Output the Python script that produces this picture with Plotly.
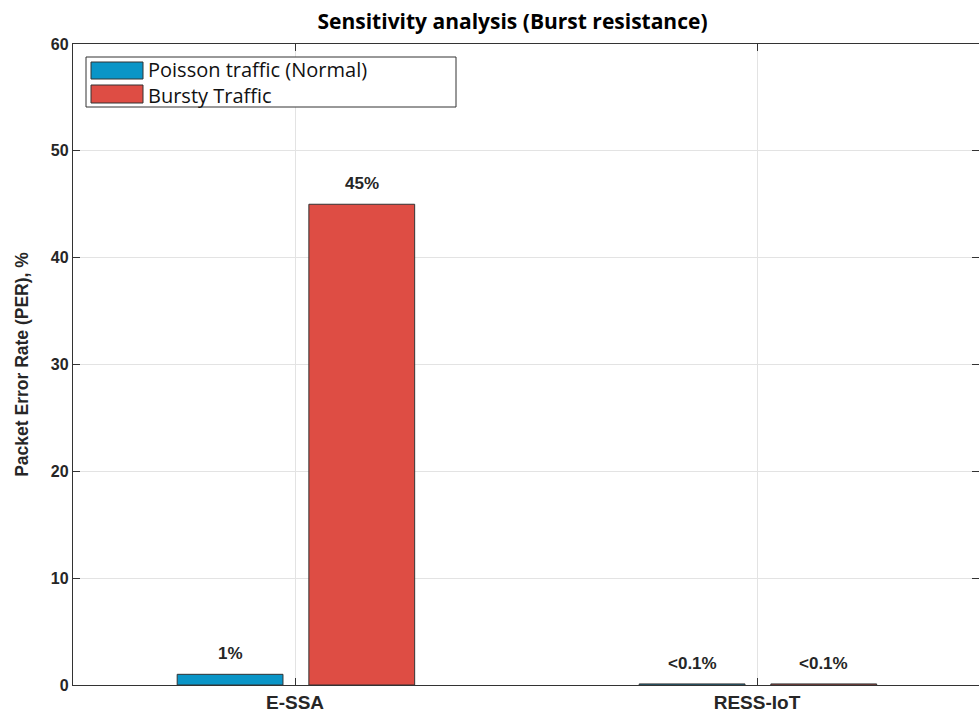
import plotly.graph_objects as go

# ---- data ----
categories = ["E-SSA", "RESS-IoT"]
series_names = ["Poisson traffic (Normal)", "Bursty Traffic"]
poisson_per = [1.0, 0.1]
bursty_per = [45.0, 0.1]
poisson_labels = ["1%", "<0.1%"]
bursty_labels = ["45%", "<0.1%"]
y_ticks = [0, 10, 20, 30, 40, 50, 60]

colors = ["#0A95C7", "#DE4D44"]
edge = "#333333"

W, H = 979, 713
ML, MR, MT, MB = 73, 0, 44, 28
PW, PH = W - ML - MR, H - MT - MB


def px_x(p):
    return (p - ML) / PW


def px_y(p):
    return (H - MB - p) / PH


idx = list(range(len(categories)))
bar_w = 0.229
offsets = [-0.255, 0.030]

fig = go.Figure()
for vals, name, col, off in zip([poisson_per, bursty_per], series_names, colors, offsets):
    fig.add_trace(go.Bar(
        x=idx, y=vals, name=name, width=bar_w, offset=off,
        marker=dict(color=col, line=dict(color=edge, width=1)),
        showlegend=False,
    ))

annotations = []
for vals, labels, off in zip([poisson_per, bursty_per], [poisson_labels, bursty_labels], offsets):
    for i, v, lab in zip(idx, vals, labels):
        annotations.append(dict(
            x=i + off + bar_w / 2, y=v, xref="x", yref="y", text=lab, showarrow=False,
            yanchor="bottom", yshift=9,
            font=dict(family="Arial, Liberation Sans", size=17, color="#262626", weight="bold"),
        ))

# custom legend (wide swatches like the reference)
shapes = [dict(type="rect", xref="paper", yref="paper",
               x0=px_x(86), x1=px_x(456), y0=px_y(107), y1=px_y(57),
               line=dict(color="#333333", width=1), fillcolor="white", layer="above")]
rows = [(62, 79), (85, 103)]
for (t, b), col in zip(rows, colors):
    shapes.append(dict(type="rect", xref="paper", yref="paper",
                       x0=px_x(91), x1=px_x(143), y0=px_y(b), y1=px_y(t),
                       line=dict(color="#333333", width=1), fillcolor=col, layer="above"))
annotations.append(dict(x=px_x(147), y=px_y(82.2), xref="paper", yref="paper",
                        text="<br>".join(series_names), showarrow=False,
                        xanchor="left", yanchor="middle", align="left", borderpad=0,
                        font=dict(family="Open Sans", size=20, color="#111111")))

fig.update_layout(
    width=W, height=H,
    margin=dict(l=ML, r=MR, t=MT, b=MB),
    plot_bgcolor="white", paper_bgcolor="white",
    barmode="overlay",
    title=dict(text="Sensitivity analysis (Burst resistance)",
               x=px_x(512.5), xref="paper", xanchor="center",
               y=1 - 22 / H, yref="container", yanchor="middle",
               font=dict(family="Open Sans", size=21, color="#000000", weight="bold")),
    shapes=shapes,
    annotations=annotations,
    showlegend=False,
)

fig.update_xaxes(
    range=[-0.4805, 1.4805], tickvals=idx, ticktext=categories,
    showgrid=True, gridcolor="#E3E3E3", gridwidth=1,
    showline=True, linecolor="#333333", linewidth=1.3, mirror="ticks",
    ticks="inside", ticklen=7, tickcolor="#333333",
    tickfont=dict(family="Arial, Liberation Sans", size=19, color="#262626", weight="bold"),
    zeroline=False,
)
fig.update_yaxes(
    range=[0, 60], tickvals=y_ticks,
    showgrid=True, gridcolor="#E3E3E3", gridwidth=1,
    showline=True, linecolor="#333333", linewidth=1.3, mirror="ticks",
    ticks="inside", ticklen=7, tickcolor="#333333",
    tickfont=dict(family="Arial, Liberation Sans", size=16, color="#262626", weight="bold"),
    title=dict(text="Packet Error Rate (PER), %", standoff=17,
               font=dict(family="Arial, Liberation Sans", size=17.5, color="#262626", weight="bold")),
    zeroline=False,
)

fig.write_html("out.html", config={"displayModeBar": False},
               post_script="document.body.style.margin='0px';")
